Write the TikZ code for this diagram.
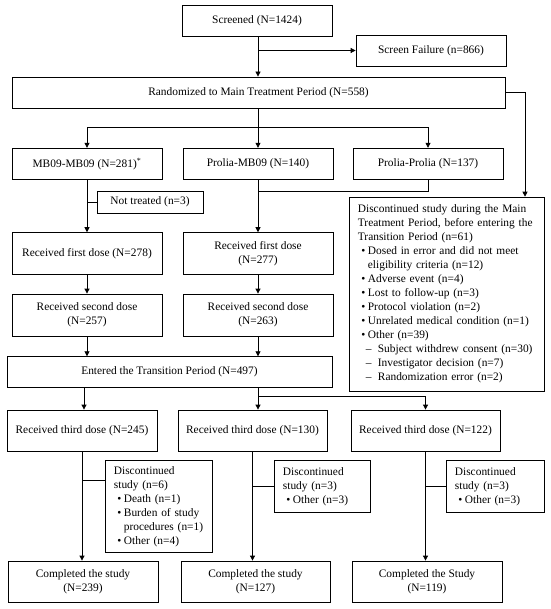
\documentclass[tikz,border=0pt]{standalone}
\usepackage{fontspec}
\setmainfont{Liberation Serif}
\usetikzlibrary{arrows.meta,calc}
\newcommand{\bul}{\hspace*{3.5pt}\makebox[6.5pt][l]{\textbullet}}
\newcommand{\dsh}{\hspace*{8pt}\makebox[12pt][l]{–}}
\begin{document}
\begin{tikzpicture}[x=1pt,y=-1pt,
  box/.style={draw, line width=0.8pt, inner sep=2pt, align=center, font=\fontsize{11.4}{14}\selectfont},
  lbox/.style={draw, line width=0.8pt, anchor=north west, align=left, inner xsep=8.5pt, inner ysep=0pt, font=\fontsize{11.4}{14}\selectfont},
  arr/.style={line width=0.8pt, -{Triangle[length=5pt,width=5pt]}},
  ln/.style={line width=0.8pt}]
\useasboundingbox (0,0) rectangle (550,609);

\node[box, minimum width=150pt, minimum height=31pt] (scr) at (257,20.5) {Screened (N=1424)};
\node[box, minimum width=150pt, minimum height=31pt] (sf) at (431,50.5) {Screen Failure (n=866)};
\node[box, minimum width=493pt, minimum height=31pt] (rand) at (258.5,92.5) {Randomized to Main Treatment Period (N=558)};
\node[box, minimum width=150pt, minimum height=31pt] (g1) at (87,163.7) {MB09-MB09 (N=281)\textsuperscript{*}};
\node[box, minimum width=150pt, minimum height=31pt] (g2) at (258,163.7) {Prolia-MB09 (N=140)};
\node[box, minimum width=150pt, minimum height=31pt] (g3) at (428,163.7) {Prolia-Prolia (N=137)};
\node[box, minimum width=106pt, minimum height=22pt] (nt) at (150,202) {Not treated (n=3)};
\node[box, minimum width=150pt, minimum height=41.3pt] (d1a) at (87,253.3) {Received first dose (N=278)};
\node[box, minimum width=150pt, minimum height=41.3pt] (d1b) at (258,253.3) {Received first dose\\(N=277)};
\node[box, minimum width=150pt, minimum height=42pt] (d2a) at (87,315) {Received second dose\\(N=257)};
\node[box, minimum width=150pt, minimum height=42pt] (d2b) at (258,315) {Received second dose\\(N=263)};
\node[box, minimum width=325pt, minimum height=30.6pt] (ent) at (169.5,372) {Entered the Transition Period (N=497)};
\node[box, minimum width=150pt, minimum height=41pt] (d3a) at (82,430.5) {Received third dose (N=245)};
\node[box, minimum width=149pt, minimum height=41pt] (d3b) at (252.5,430.5) {Received third dose (N=130)};
\node[box, minimum width=149pt, minimum height=41pt] (d3c) at (425.5,430.5) {Received third dose (N=122)};
\node[box, minimum width=150pt, minimum height=41pt] (ca) at (83,581.5) {Completed the study\\(N=239)};
\node[box, minimum width=149pt, minimum height=41pt] (cb) at (255.5,581.5) {Completed the study\\(N=127)};
\node[box, minimum width=150pt, minimum height=41pt] (cc) at (427,581.5) {Completed the Study\\(N=119)};

\node[lbox, minimum width=195pt, minimum height=194pt, text width=178pt] (dm) at (349,196.7) {%
Discontinued study during the Main\\
Treatment Period, before entering the\\
Transition Period (n=61)\\
\bul Dosed in error and did not meet\\
\hspace*{10pt}eligibility criteria (n=12)\\
\bul Adverse event (n=4)\\
\bul Lost to follow-up (n=3)\\
\bul Protocol violation (n=2)\\
\bul Unrelated medical condition (n=1)\\
\bul Other (n=39)\\
\dsh Subject withdrew consent (n=30)\\
\dsh Investigator decision (n=7)\\
\dsh Randomization error (n=2)};

\node[lbox, minimum width=107pt, minimum height=92pt, text width=90pt] (dca) at (105,460) {%
Discontinued\\
study (n=6)\\
\bul Death (n=1)\\
\bul Burden of study\\
\hspace*{10pt}procedures (n=1)\\
\bul Other (n=4)};
\node[lbox, minimum width=96pt, minimum height=52pt, text width=79pt] (dcb) at (274,460) {%
Discontinued\\
study (n=3)\\
\bul Other (n=3)};
\node[lbox, minimum width=98pt, minimum height=52pt, text width=81pt] (dcc) at (446,460) {%
Discontinued\\
study (n=3)\\
\bul Other (n=3)};

\draw[arr] (scr.south -| 258,0) -- (rand.north -| 258,0);
\draw[arr] (sf.west -| 258,0) -- (sf.west);
\draw[arr] (g2.north |- rand.south) -- (g2.north);
\draw[arr] (g2.north |- 0,127) -| (g1.north);
\draw[arr] (g2.north |- 0,127) -| (g3.north);
\draw[arr] (rand.east) -| (dm.north -| 525,0);

\draw[arr] (g1.south) -- (d1a.north);
\draw[ln] (g1.south |- nt.west) -- (nt.west);
\draw[arr] (g2.south) -- (d1b.north);
\draw[ln] (g3.south) |- (g2.south |- 0,191.7);
\draw[arr] (d1a.south) -- (d2a.north);
\draw[arr] (d1b.south) -- (d2b.north);
\draw[arr] (d2a.south) -- (d2a.south |- ent.north);
\draw[arr] (d2b.south) -- (d2b.south |- ent.north);

\draw[arr] (ent.south -| 84,0) -- (d3a.north -| 84,0);
\draw[arr] (ent.south -| 258,0) -- (d3b.north -| 258,0);
\draw[arr] (258,396.7) -| (d3c.north);

\draw[arr] (d3a.south) -- (d3a.south |- ca.north);
\draw[ln] (d3a.south |- 0,480) -- (dca.west |- 0,480);
\draw[arr] (d3b.south) -- (d3b.south |- cb.north);
\draw[ln] (d3b.south |- dcb.west) -- (dcb.west);
\draw[arr] (d3c.south) -- (d3c.south |- cc.north);
\draw[ln] (d3c.south |- dcc.west) -- (dcc.west);
\end{tikzpicture}
\end{document}
